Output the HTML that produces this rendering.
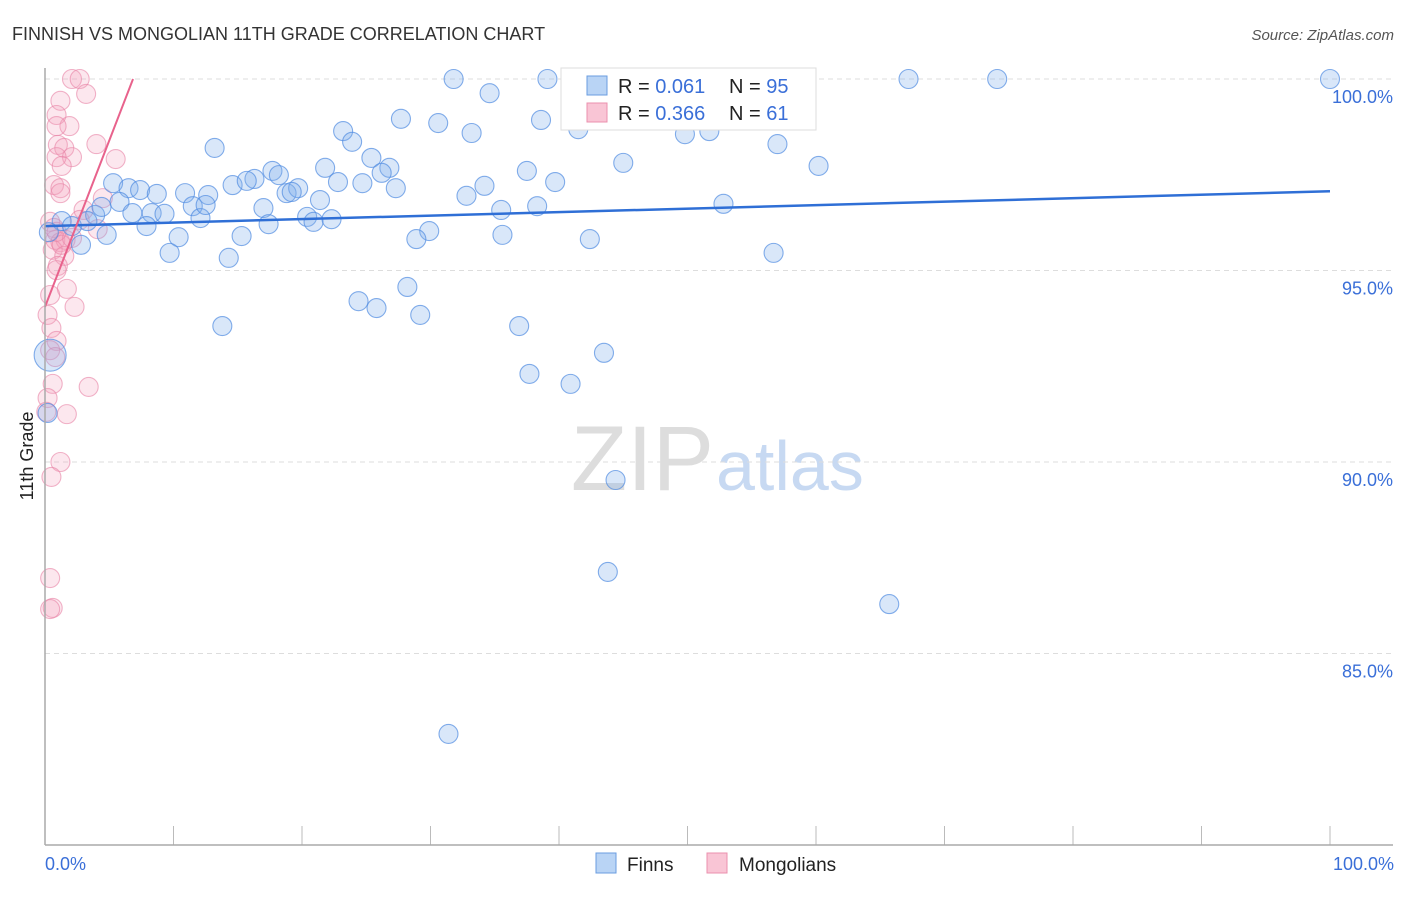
<!DOCTYPE html>
<html><head><meta charset="utf-8"><style>
body{margin:0;background:#fff;font-family:"Liberation Sans",sans-serif}
svg text{font-family:"Liberation Sans",sans-serif}
</style></head><body>
<svg width="1406" height="892">
<text x="12" y="40" font-size="18" fill="#333">FINNISH VS MONGOLIAN 11TH GRADE CORRELATION CHART</text>
<text x="1394" y="40" font-size="15" font-style="italic" fill="#555" text-anchor="end">Source: ZipAtlas.com</text>
<text transform="translate(33,456) rotate(-90)" font-size="18" fill="#222" text-anchor="middle">11th Grade</text>
<text x="714" y="490" font-size="92" fill="#ddd" text-anchor="end" font-family="Liberation Serif">ZIP</text>
<text x="716" y="490" font-size="70" fill="#c7d9f2">atlas</text>
<g id="grid"></g>
<g id="pts"></g>
<g id="lines"></g>
<line x1="45" y1="68" x2="45" y2="845" stroke="#aaa" stroke-width="1.5"/>
<line x1="45" y1="845" x2="1393" y2="845" stroke="#aaa" stroke-width="1.5"/>
<text x="45" y="870" font-size="18" fill="#3a6fd8">0.0%</text>
<text x="1394" y="870" font-size="18" fill="#3a6fd8" text-anchor="end">100.0%</text>
<g>
<rect x="561" y="68" width="255" height="62" fill="#fff" stroke="#ddd"/>
<rect x="587" y="76" width="20" height="19" fill="#b9d4f5" stroke="#6a9de0"/>
<rect x="587" y="103" width="20" height="19" fill="#f9c5d5" stroke="#eb90ae"/>
<text x="618" y="93" font-size="20" fill="#222">R = <tspan fill="#3a6fd8">0.061</tspan></text>
<text x="729" y="93" font-size="20" fill="#222">N = <tspan fill="#3a6fd8">95</tspan></text>
<text x="618" y="120" font-size="20" fill="#222">R = <tspan fill="#3a6fd8">0.366</tspan></text>
<text x="729" y="120" font-size="20" fill="#222">N = <tspan fill="#3a6fd8">61</tspan></text>
</g>
<g>
<rect x="596" y="853" width="20" height="20" fill="#b9d4f5" stroke="#6a9de0"/>
<text x="627" y="871" font-size="19" fill="#222">Finns</text>
<rect x="707" y="853" width="20" height="20" fill="#f9c5d5" stroke="#eb90ae"/>
<text x="739" y="871" font-size="19" fill="#222">Mongolians</text>
</g>
</svg>
<script>
const yTicks=[100,95,90,85];
const yTickLabels=["100.0%","95.0%","90.0%","85.0%"];
const xTicks=[0,10,20,30,40,50,60,70,80,90,100];
const finnsX=[31.8,39.1,55.8,58.9,67.2,74.1,100,34.6,27.7,30.6,38.6,41.5,33.2,49.8,51.7,23.2,23.9,13.2,57.0,45.0,60.2,25.4,21.8,17.7,18.2,26.8,26.2,37.5,16.3,22.8,24.7,27.3,34.2,39.7,5.3,6.5,7.4,8.7,10.9,12.7,14.6,15.7,18.8,19.7,19.2,21.4,32.8,5.8,6.8,8.3,9.3,11.5,12.1,12.5,17.0,20.4,20.9,22.3,35.5,38.3,52.8,1.3,2.1,3.9,4.4,7.9,17.4,10.4,4.8,2.8,15.3,29.9,28.9,35.6,42.4,9.7,14.3,56.7,28.2,24.4,25.8,29.2,13.8,36.9,43.5,37.7,40.9,44.4,43.8,65.7,31.4,0.4,0.2,3.3,0.3];
const finnsY=[100,100,100,100,100,100,100,99.63,98.96,98.85,98.93,98.69,98.59,98.56,98.64,98.64,98.36,98.20,98.30,97.81,97.73,97.94,97.68,97.60,97.49,97.68,97.55,97.60,97.39,97.31,97.28,97.15,97.21,97.31,97.28,97.15,97.10,97.00,97.02,96.97,97.23,97.34,97.02,97.15,97.05,96.84,96.95,96.79,96.50,96.50,96.48,96.68,96.37,96.71,96.63,96.40,96.27,96.34,96.58,96.68,96.74,96.29,96.16,96.45,96.66,96.16,96.21,95.87,95.93,95.67,95.90,96.03,95.82,95.93,95.82,95.46,95.33,95.46,94.57,94.20,94.02,93.84,93.55,93.55,92.85,92.30,92.04,89.53,87.13,86.29,82.90,92.79,91.28,96.29,96.0];
const mongX=[2.1,2.7,3.2,1.2,0.9,1.9,0.9,1.0,1.5,4.0,2.1,5.5,0.9,1.3,0.7,1.2,1.2,3.0,0.4,0.7,4.1,0.8,1.2,1.6,0.6,1.5,1.0,0.9,1.7,0.4,2.3,0.2,0.5,0.9,0.4,0.8,0.6,3.4,0.2,1.7,0.1,1.2,0.5,0.4,0.6,0.4,2.7,4.5,1.3,2.1,0.9];
const mongY=[100,100,99.61,99.43,99.06,98.77,98.77,98.28,98.20,98.30,97.96,97.91,97.96,97.73,97.23,97.15,97.02,96.58,96.27,96.11,96.08,95.80,95.74,95.80,95.54,95.38,95.12,95.01,94.52,94.36,94.05,93.84,93.50,93.16,92.92,92.74,92.04,91.96,91.67,91.25,91.31,90.0,89.61,86.97,86.19,86.16,96.32,96.89,95.67,95.85,96.01];
const finnsTrendX=[0,100], finnsTrendY=[96.16,97.07];
const mongTrendX=[0,6.85], mongTrendY=[94.05,100];
const NS="http://www.w3.org/2000/svg";
const sx=v=>45+v*12.85, sy=v=>79+(100-v)*38.3;
function mk(tag,attrs,parent){const e=document.createElementNS(NS,tag);for(const k in attrs)e.setAttribute(k,attrs[k]);document.getElementById(parent).appendChild(e);return e;}
yTicks.forEach((t,i)=>{
 const l=mk('line',{x1:45,x2:1393,y1:sy(t),y2:sy(t),stroke:'#ddd','stroke-dasharray':'5,4'},'grid');
 
 
 const tx=mk('text',{x:1393,y:sy(t)+24,'font-size':18,fill:'#3a6fd8','text-anchor':'end'},'grid');
 tx.textContent=yTickLabels[i];
 
 
});
xTicks.forEach(t=>{
 const l=mk('line',{x1:sx(t),x2:sx(t),y1:826,y2:845,stroke:'#bbb'},'grid');
 
 
});
mongX.forEach((x,i)=>{
 const c=mk('circle',{cx:sx(x),cy:sy(mongY[i]),r:9.5,fill:'rgba(244,160,188,0.25)',stroke:'rgba(232,130,165,0.6)','stroke-width':1.1},'pts');
 
 
});
finnsX.forEach((x,i)=>{
 const big=(i===finnsX.length-4);
 const c=mk('circle',{cx:sx(x),cy:sy(finnsY[i]),r:big?16:9.5,fill:'rgba(130,175,235,0.3)',stroke:'rgba(80,140,225,0.7)','stroke-width':1.1},'pts');
 
 
});
const bl=mk('line',{x1:sx(finnsTrendX[0]),y1:sy(finnsTrendY[0]),x2:sx(finnsTrendX[1]),y2:sy(finnsTrendY[1]),stroke:'#2f6fd6','stroke-width':2.5},'lines');


const pl=mk('line',{x1:sx(mongTrendX[0]),y1:sy(mongTrendY[0]),x2:sx(mongTrendX[1]),y2:sy(mongTrendY[1]),stroke:'#e8628c','stroke-width':2},'lines');


</script>
</body></html>
